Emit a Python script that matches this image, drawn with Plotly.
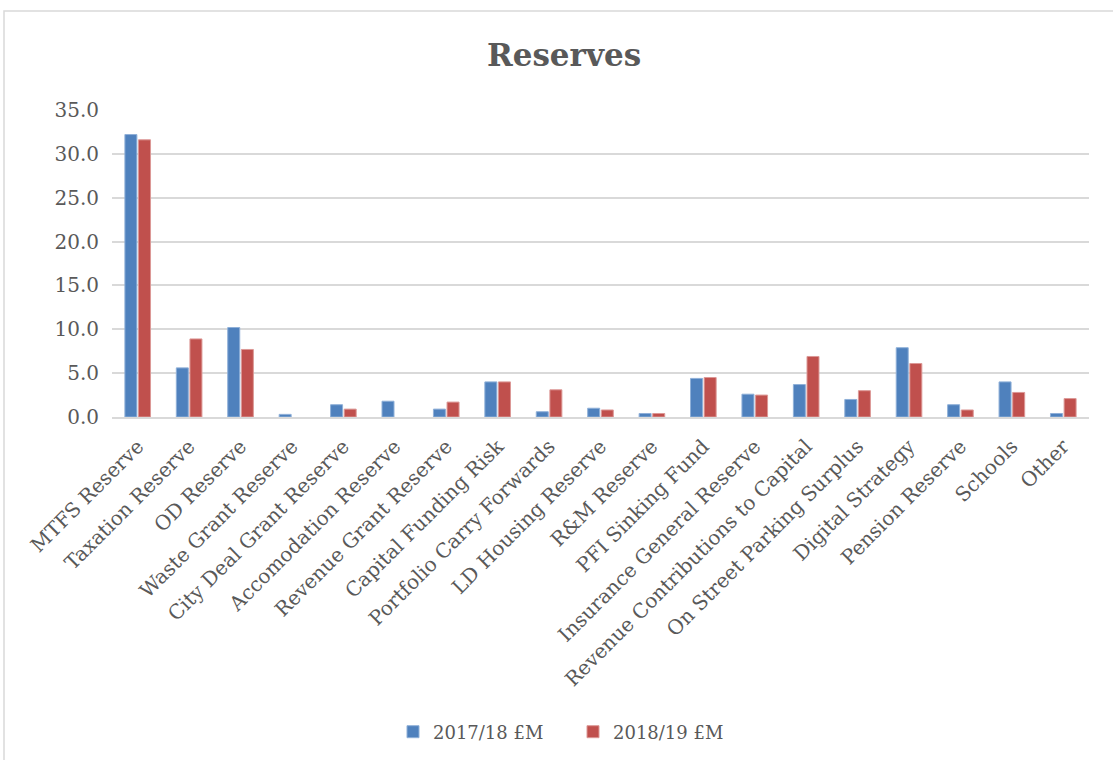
import plotly.graph_objects as go

categories = ["MTFS Reserve", "Taxation Reserve", "OD Reserve", "Waste Grant Reserve",
              "City Deal Grant Reserve", "Accomodation Reserve", "Revenue Grant Reserve",
              "Capital Funding Risk", "Portfolio Carry Forwards", "LD Housing Reserve",
              "R&M Reserve", "PFI Sinking Fund", "Insurance General Reserve",
              "Revenue Contributions to Capital", "On Street Parking Surplus",
              "Digital Strategy", "Pension Reserve", "Schools", "Other"]
values_2017 = [32.2, 5.6, 10.2, 0.3, 1.4, 1.8, 0.9, 4.0, 0.6, 1.0, 0.4, 4.4, 2.6, 3.7,
               2.0, 7.9, 1.4, 4.0, 0.4]
values_2018 = [31.6, 8.9, 7.7, None, 0.9, None, 1.7, 4.0, 3.1, 0.8, 0.4, 4.5, 2.5, 6.9,
               3.0, 6.1, 0.8, 2.8, 2.1]
series_names = ["2017/18 £M", "2018/19 £M"]
y_ticks = [0, 5, 10, 15, 20, 25, 30, 35]

FONT = "DejaVu Serif"
TXT = "#595959"

W, H = 1113, 760
L, R, T, B = 112, 24, 110, 343
pw = W - L - R
ph = H - T - B

fig = go.Figure()
fig.add_trace(go.Bar(x=categories, y=values_2017, name=series_names[0],
                     marker=dict(color="#4f81bd", line=dict(color="#8fb0d8", width=1))))
fig.add_trace(go.Bar(x=categories, y=values_2018, name=series_names[1],
                     marker=dict(color="#c0504d", line=dict(color="#dc9896", width=1))))

fig.add_shape(type="rect", xref="paper", yref="paper",
              x0=(4 - L) / pw, x1=(W + 20 - L) / pw,
              y0=(H - B - (H + 20)) / ph, y1=(H - B - 11) / ph,
              line=dict(color="#d9d9d9", width=1.5), fillcolor="rgba(0,0,0,0)", layer="below")

fig.update_layout(
    width=W, height=H,
    margin=dict(l=L, r=R, t=T, b=B, autoexpand=False),
    paper_bgcolor="white", plot_bgcolor="white",
    barmode="group", bargap=0.47, bargroupgap=0.12,
    title=dict(text="<b>Reserves</b>", x=564 / W, xref="container", xanchor="center",
               y=1 - 55 / H, yref="container", yanchor="middle",
               font=dict(family=FONT, size=31, color=TXT)),
    font=dict(family=FONT, size=18, color=TXT),
    xaxis=dict(tickangle=-45, tickfont=dict(family=FONT, size=20, color=TXT),
               showgrid=False, showline=True, linecolor="#d9d9d9", linewidth=1.5,
               ticks="", ticklabelstandoff=8, automargin=False),
    yaxis=dict(range=[0, 35], tickvals=y_ticks, tickformat=".1f",
               tickfont=dict(family=FONT, size=20, color=TXT),
               showgrid=True, gridcolor="#d9d9d9", gridwidth=1.5,
               zeroline=False, showline=False, ticks="", ticklabelstandoff=12,
               automargin=False),
    legend=dict(orientation="h", x=(393 - L) / pw, xanchor="left", xref="paper",
                y=-(732 - (H - B)) / ph, yanchor="middle",
                font=dict(family=FONT, size=18, color=TXT),
                entrywidth=135, entrywidthmode="pixels", traceorder="normal"),
    showlegend=True,
)

fig.write_html("out.html", config={"displayModeBar": False},
               post_script="document.body.style.margin='0';")
